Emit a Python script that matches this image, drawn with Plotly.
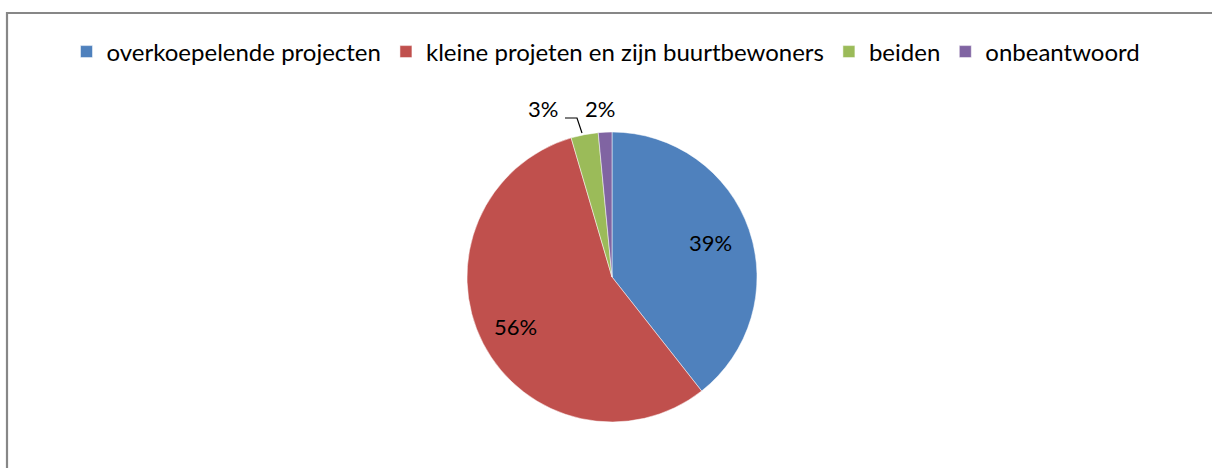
import math
import plotly.graph_objects as go

categories = ["overkoepelende projecten", "kleine projeten en zijn buurtbewoners", "beiden", "onbeantwoord"]
counts = [26, 37, 2, 1]
colors = ["#4F81BD", "#C0504D", "#9BBB59", "#8064A2"]

W, H = 1212, 468
FONT = "Lato, Carlito, Calibri, Noto Sans, sans-serif"
CX, CY, R = 612, 277, 145   # pie centre / radius in pixels


def px(x):
    return x / W


def py(y):
    return 1 - y / H


fig = go.Figure(go.Pie(
    labels=categories,
    values=counts,
    marker=dict(colors=colors, line=dict(color="white", width=0.5)),
    sort=False,
    direction="clockwise",
    rotation=0,
    textinfo="none",
    domain=dict(x=[px(CX - R), px(CX + R)], y=[py(CY + R), py(CY - R)]),
    automargin=False,
    hoverinfo="label+percent",
))

# data labels, placed along each slice's bisector (Excel-style)
total = sum(counts)
annotations = []
cum = 0
label_k = {0: 0.72, 1: 0.75}
for i, c in enumerate(counts):
    frac = c / total
    mid = (cum + frac / 2) * 2 * math.pi
    cum += frac
    txt = f"{round(frac * 100)}%"
    if i in label_k:
        k = label_k[i]
        x = CX + k * R * math.sin(mid)
        y = CY - k * R * math.cos(mid)
    elif i == 2:
        x, y = 543, 108
    else:
        x, y = 600, 108
    annotations.append(dict(x=px(x), y=py(y), xref="paper", yref="paper", text=txt,
                            showarrow=False, xanchor="center", yanchor="middle",
                            font=dict(family=FONT, size=22, color="black")))

fig.update_layout(
    width=W, height=H,
    margin=dict(l=0, r=0, t=0, b=0),
    paper_bgcolor="white",
    font=dict(family=FONT, size=24, color="black"),
    legend=dict(orientation="h", x=0.5, xanchor="center", y=py(52), yanchor="middle",
                font=dict(size=24, family=FONT), itemwidth=30, traceorder="normal",
                itemclick=False),
    annotations=annotations,
    shapes=[
        dict(type="rect", xref="paper", yref="paper",
             x0=px(7), x1=1.05, y0=-0.05, y1=py(13),
             line=dict(color="#878787", width=2.2), fillcolor="rgba(0,0,0,0)"),
        dict(type="path", xref="paper", yref="paper",
             path=f"M {px(582)},{py(133)} L {px(577)},{py(118)} L {px(565)},{py(118)}",
             line=dict(color="black", width=1.2)),
    ],
)

fig.write_html("out.html", config={"displayModeBar": False})
with open("out.html", encoding="utf-8") as f:
    html = f.read()
html = html.replace("<body>", '<body style="margin:0;padding:0;overflow:hidden">', 1)
with open("out.html", "w", encoding="utf-8") as f:
    f.write(html)
